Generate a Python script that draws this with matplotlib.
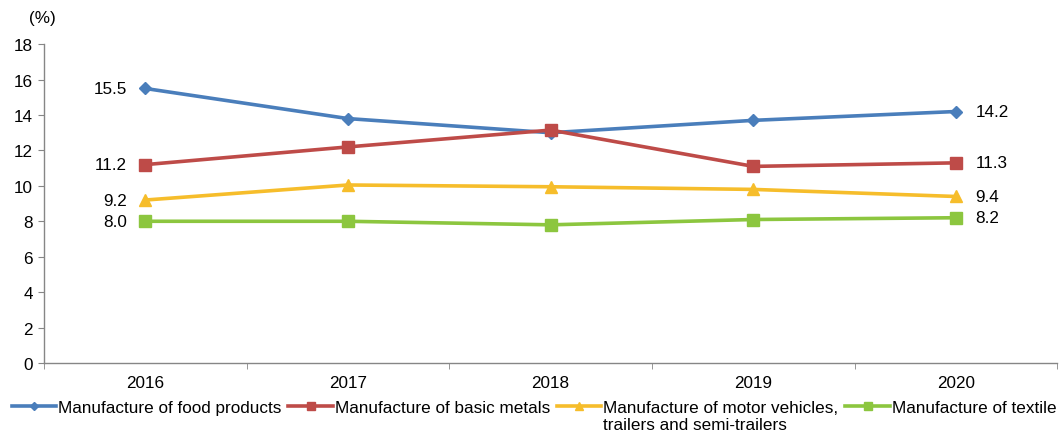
import matplotlib.pyplot as plt
import numpy as np

plt.rcParams['font.family'] = ['Liberation Sans', 'DejaVu Sans']

years = ['2016', '2017', '2018', '2019', '2020']
food = [15.5, 13.8, 13.0, 13.7, 14.2]
metals = [11.2, 12.2, 13.15, 11.1, 11.3]
vehicles = [9.2, 10.05, 9.95, 9.8, 9.4]
textile = [8.0, 8.0, 7.8, 8.1, 8.2]

labels = ['Manufacture of food products', 'Manufacture of basic metals',
          'Manufacture of motor vehicles,\ntrailers and semi-trailers',
          'Manufacture of textile']
colors = ['#4A7EBB', '#BE4B48', '#F6BD2B', '#8CC63F']
markers = ['D', 's', '^', 's']
msizes = [6.5, 9, 8.5, 9]

fs = 12.3

fig = plt.figure(figsize=(10.6, 4.39), dpi=100)
ax = fig.add_axes([0.0415, 0.171, 0.956, 0.726])

x = np.arange(len(years))
series = [food, metals, vehicles, textile]
for vals, c, m, ms, lab in zip(series, colors, markers, msizes, labels):
    ax.plot(x, vals, color=c, lw=2.6, marker=m, ms=ms, mec=c, mfc=c, label=lab)

# first and last values written beside the points
for vals in series:
    ax.text(x[0] - 0.09, vals[0], f'{vals[0]:.1f}', ha='right', va='center', fontsize=fs)
    ax.text(x[-1] + 0.095, vals[-1], f'{vals[-1]:.1f}', ha='left', va='center', fontsize=fs)

ax.set_xlim(-0.5, 4.5)
ax.set_ylim(0, 18)
ax.set_yticks(range(0, 19, 2))
ax.set_xticks(x)
ax.set_xticklabels(years)
ax.set_xticks(np.arange(-0.5, 5, 1), minor=True)
ax.tick_params(axis='x', which='major', length=0, pad=9, labelsize=fs)
ax.tick_params(axis='x', which='minor', length=4, color='#868686', direction='out')
ax.tick_params(axis='y', length=4, color='#868686', labelsize=fs, pad=4)

for s in ['top', 'right']:
    ax.spines[s].set_visible(False)
for s in ['left', 'bottom']:
    ax.spines[s].set_color('#868686')
    ax.spines[s].set_linewidth(1.0)

fig.text(0.027, 0.958, '(%)', fontsize=fs, ha='left', va='center')

leg = ax.legend(loc='upper left', bbox_to_anchor=(0.011, 0.087), bbox_transform=fig.transFigure,
                ncol=4, frameon=False, fontsize=fs, handlelength=2.6, handletextpad=0.12,
                columnspacing=0.4, borderaxespad=0, borderpad=0, markerscale=0.7)
# line up the handles with the first line of each label
for col in leg._legend_handle_box.get_children():
    col.align = 'top'
    for item in col.get_children():
        item.align = 'top'
leg._legend_handle_box.align = 'top'

fig.savefig('out.png', dpi=100)
